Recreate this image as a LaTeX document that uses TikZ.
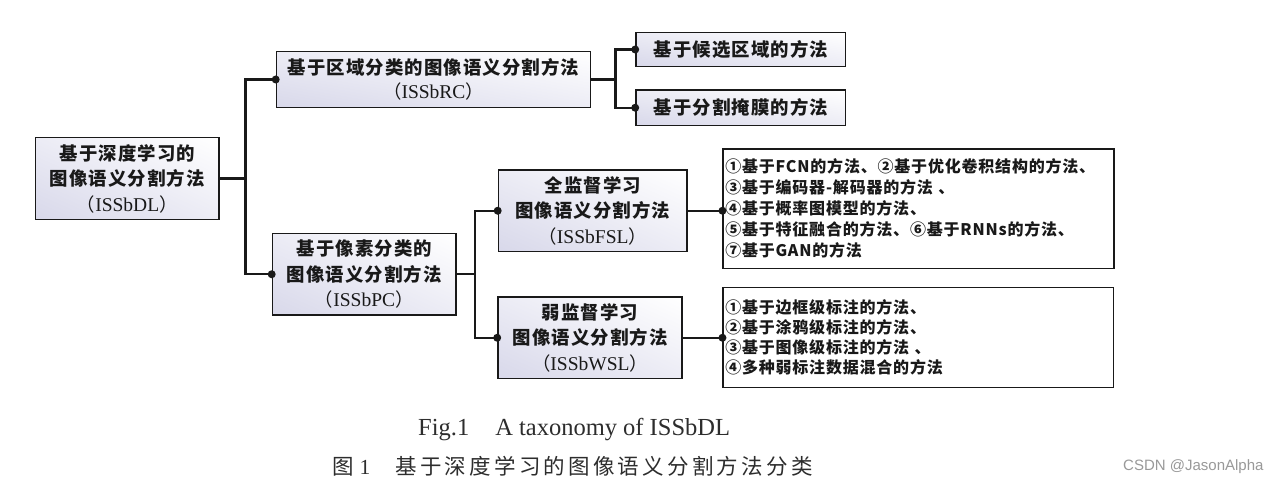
\documentclass[tikz,border=0pt]{standalone}
\usepackage{fontspec}
\usetikzlibrary{shadings}
\setmainfont{Liberation Serif}
\newfontfamily\cjk[LetterSpace=6]{Noto Sans CJK SC}
\newfontfamily\cjkl[LetterSpace=5]{Noto Sans CJK SC}
\newfontfamily\cjkc[LetterSpace=15]{Noto Sans CJK SC}
\newfontfamily\sansw{Liberation Sans}
\definecolor{boxl}{RGB}{216,216,234}
\definecolor{boxm}{RGB}{236,236,245}
\definecolor{ink}{RGB}{25,25,25}
\definecolor{capc}{RGB}{45,45,45}
\newcommand{\prn}[1]{{\mdseries （}{\rmfamily\mdseries\fontsize{19.5}{25.5}\selectfont #1}{\mdseries ）}}
\begin{document}
\begin{tikzpicture}[x=1pt,y=-1pt,
  box/.style={draw=ink, line width=1.6pt, lower left=boxl, upper right=white,
    upper left=boxm, lower right=boxm,
    inner sep=0pt, align=center, text=ink,
    font=\cjk\bfseries\fontsize{18.4}{25.5}\selectfont},
  lst/.style={draw=ink, line width=1.6pt, fill=white, inner xsep=2pt, inner ysep=0pt,
    align=left, text=ink},
  conn/.style={draw=ink, line width=2.3pt},
  dot/.style={circle, fill=ink, inner sep=0pt, minimum size=8pt}]
\useasboundingbox (0,0) rectangle (1280,484);
\fill[white] (0,0) rectangle (1280,484);

% boxes
\node[box, minimum width=183.5pt, minimum height=82pt] (root) at (127.25,178.5)
  {基于深度学习的\\图像语义分割方法\\\prn{ISSbDL}};
\node[box, minimum width=314pt, minimum height=56pt] (rc) at (433.5,79.5)
  {基于区域分类的图像语义分割方法\\[-1.5pt]\prn{ISSbRC}};
\node[box, minimum width=183.5pt, minimum height=81.5pt] (pc) at (364.25,274.25)
  {基于像素分类的\\图像语义分割方法\\\prn{ISSbPC}};
\node[box, minimum width=209.5pt, minimum height=34pt] (b1) at (740.75,49.5)
  {基于候选区域的方法};
\node[box, minimum width=209.5pt, minimum height=35.5pt] (b2) at (740.75,107.75)
  {基于分割掩膜的方法};
\node[box, minimum width=188.5pt, minimum height=81.5pt] (fsl) at (592.75,210.75)
  {全监督学习\\图像语义分割方法\\\prn{ISSbFSL}};
\node[box, minimum width=184pt, minimum height=81.5pt] (wsl) at (590,337.75)
  {弱监督学习\\图像语义分割方法\\\prn{ISSbWSL}};
\node[lst, minimum width=390.5pt, minimum height=119pt, text width=386.5pt,
  font=\cjkl\bfseries\fontsize{16}{21}\selectfont] (l1) at (918.5,208.8)
  {①基于FCN的方法、②基于优化卷积结构的方法、\\
   ③基于编码器-解码器的方法 、\\
   ④基于概率图模型的方法、\\
   ⑤基于特征融合的方法、⑥基于RNNs的方法、\\
   ⑦基于GAN的方法};
\node[lst, minimum width=390.3pt, minimum height=100pt, text width=386.3pt,
  font=\cjkl\bfseries\fontsize{16}{20.3}\selectfont] (l2) at (918.4,337.3)
  {①基于边框级标注的方法、\\
   ②基于涂鸦级标注的方法、\\
   ③基于图像级标注的方法 、\\
   ④多种弱标注数据混合的方法};

% junctions
\coordinate (j1) at (245.5,178.5);
\coordinate (j2) at (615.5,79.5);
\coordinate (j3) at (475,274.25);

% connectors
\draw[conn] (root.east) -- (j1);
\draw[conn] (rc.west) -| (j1) |- (pc.west);
\draw[conn] (rc.east) -- (j2);
\draw[conn] (b1.west) -| (j2) |- (b2.west);
\draw[conn] (pc.east) -- (j3);
\draw[conn] (fsl.west) -| (j3) |- (wsl.west);
\draw[conn] (fsl.east) -- (fsl.east -| l1.west) coordinate (e1);
\draw[conn] (wsl.east) -- (wsl.east -| l2.west) coordinate (e2);

% dots
\node[dot] (d1) at (rc.west) {};
\node[dot] (d2) at (pc.west) {};
\node[dot] (d3) at (b1.west) {};
\node[dot] (d4) at (b2.west) {};
\node[dot] (d5) at (fsl.west) {};
\node[dot] (d6) at (wsl.west) {};
\node[dot] (d7) at (e1) {};
\node[dot] (d8) at (e2) {};

% captions
\node[anchor=base west, inner sep=0pt, text=capc, font=\fontsize{24.5}{24.5}\selectfont]
  (capen) at (418,435) {Fig.1\hspace{26pt}A taxonomy of ISSbDL};
\node[anchor=west, inner sep=0pt, text=capc, font=\fontsize{21.5}{21.5}\selectfont]
  (capzh) at (332,466.5) {{\cjkc 图}\hspace{6pt}1\hspace{25pt}{\cjkc 基于深度学习的图像语义分割方法分类}};
\node[anchor=base west, inner sep=0pt, text=gray!80, font=\sansw\fontsize{15}{15}\selectfont]
  (csdn) at (1123,470) {CSDN @JasonAlpha};
\end{tikzpicture}
\end{document}
